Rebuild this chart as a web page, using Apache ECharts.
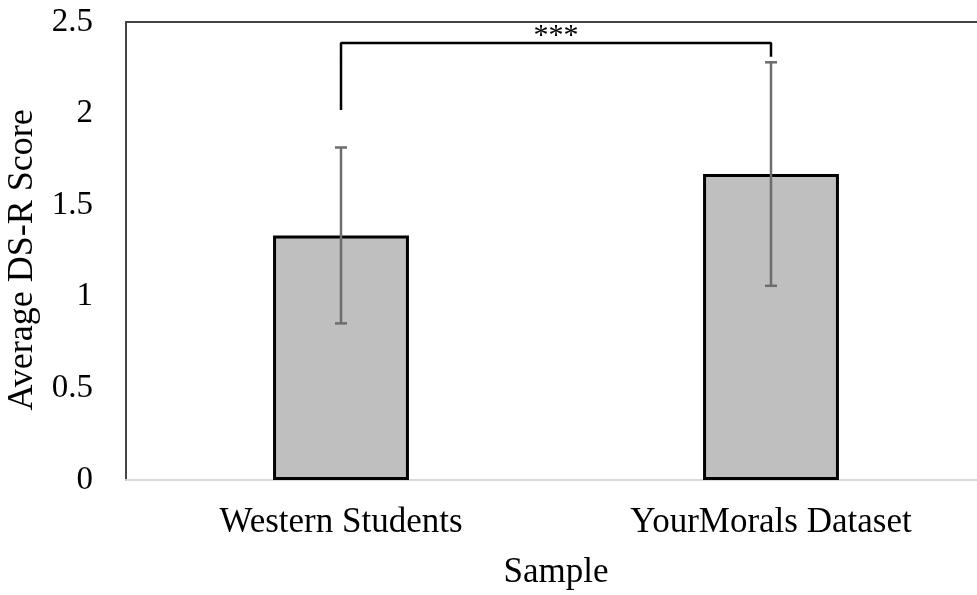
<!DOCTYPE html>
<html>
<head>
<meta charset="utf-8">
<script src="https://cdn.jsdelivr.net/npm/echarts@6/dist/echarts.min.js"></script>
<style>
  html, body { margin: 0; padding: 0; background: #fff; }
  #chart { width: 977px; height: 595px; }
</style>
</head>
<body>
<div id="chart"></div>
<script>
// Sample groups and their mean DS-R scores with error-bar half-widths
const categories = ['Western Students', 'YourMorals Dataset'];
const means = [1.335, 1.67];
const errors = [0.48, 0.61];

// Significance bracket between the two groups (x as category index, y in score units)
const bracketPoints = [[0, 2.02], [0, 2.385], [1, 2.385], [1, 2.31]];
const bracketLabel = '***';

const FONT = '"Liberation Serif", "Times New Roman", serif';

const chart = echarts.init(document.getElementById('chart'));

const errorData = means.map((m, i) => [i, m - errors[i], m + errors[i]]);

chart.setOption({
  backgroundColor: '#fff',
  animation: false,
  grid: {
    left: 126, top: 22, width: 860, bottom: 115,
    containLabel: false,
    outerBoundsMode: 'none'
  },
  xAxis: [{
    type: 'category',
    data: categories,
    position: 'bottom',
    axisLine: { show: true, lineStyle: { color: '#d9d9d9', width: 2 } },
    axisTick: { show: false },
    axisLabel: { color: '#000', fontFamily: FONT, fontSize: 35, margin: 25 },
    name: 'Sample',
    nameLocation: 'middle',
    nameGap: 75,
    nameTextStyle: { color: '#000', fontFamily: FONT, fontSize: 35 }
  }, {
    type: 'category',
    data: categories,
    position: 'top',
    axisLine: { show: true, lineStyle: { color: '#444', width: 2 } },
    axisTick: { show: false },
    axisLabel: { show: false }
  }],
  yAxis: {
    type: 'value',
    min: 0,
    max: 2.5,
    interval: 0.5,
    axisLine: { show: true, lineStyle: { color: '#444', width: 2 } },
    axisTick: { show: false },
    splitLine: { show: false },
    axisLabel: { color: '#000', fontFamily: FONT, fontSize: 33, margin: 33 },
    name: 'Average DS-R Score',
    nameLocation: 'middle',
    nameGap: 79,
    nameTextStyle: { color: '#000', fontFamily: FONT, fontSize: 36, padding: [0, 18, 0, 0] }
  },
  series: [{
    type: 'bar',
    data: means,
    barWidth: '31.6%',
    itemStyle: { color: '#bfbfbf', borderColor: '#000', borderWidth: 3 },
    z: 2
  }, {
    type: 'custom',
    data: errorData,
    z: 3,
    renderItem: function (params, api) {
      const x = api.value(0);
      const lo = api.coord([x, api.value(1)]);
      const hi = api.coord([x, api.value(2)]);
      const cap = 6;
      const style = { stroke: '#6d6d6d', lineWidth: 2.5 };
      return {
        type: 'group',
        children: [
          { type: 'line', shape: { x1: hi[0], y1: hi[1], x2: lo[0], y2: lo[1] }, style },
          { type: 'line', shape: { x1: hi[0] - cap, y1: hi[1], x2: hi[0] + cap, y2: hi[1] }, style },
          { type: 'line', shape: { x1: lo[0] - cap, y1: lo[1], x2: lo[0] + cap, y2: lo[1] }, style }
        ]
      };
    }
  }, {
    type: 'line',
    data: bracketPoints,
    symbol: 'none',
    lineStyle: { color: '#000', width: 2.5 },
    z: 4
  }, {
    // significance stars centred over the bracket
    type: 'custom',
    data: [[0, 1, bracketPoints[1][1]]],
    z: 4,
    renderItem: function (params, api) {
      const a = api.coord([api.value(0), api.value(2)]);
      const b = api.coord([api.value(1), api.value(2)]);
      return {
        type: 'text',
        x: (a[0] + b[0]) / 2,
        y: a[1] + 8,
        style: {
          text: bracketLabel,
          fill: '#000',
          font: '30px ' + FONT,
          textAlign: 'center',
          textVerticalAlign: 'bottom'
        }
      };
    }
  }]
});
</script>
</body>
</html>
